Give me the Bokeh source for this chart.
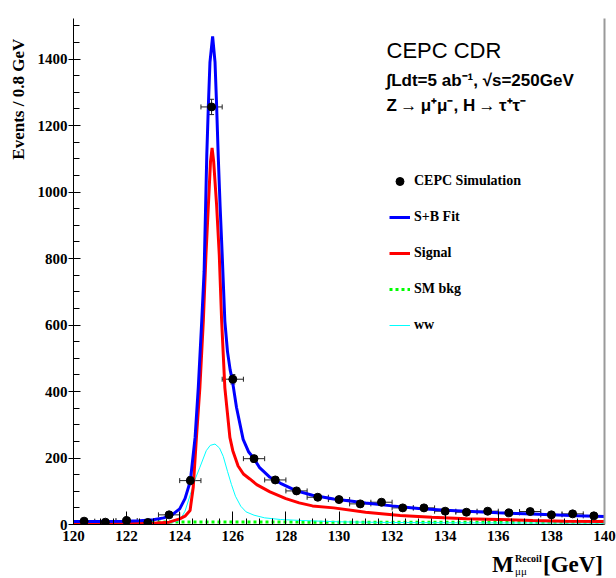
from bokeh.plotting import figure
from bokeh.layouts import column
from bokeh.models import (Range1d, FixedTicker, Whisker, TeeHead, ColumnDataSource,
                          Label, Legend, LegendItem, Title, LinearAxis, Div)
from bokeh.embed import file_html
from bokeh.resources import INLINE

# ---- data ----
bin_centers = [120.4, 121.2, 122.0, 122.8, 123.6, 124.4, 125.2, 126.0, 126.8, 127.6,
               128.4, 129.2, 130.0, 130.8, 131.6, 132.4, 133.2, 134.0, 134.8, 135.6,
               136.4, 137.2, 138.0, 138.8, 139.6]
events = [10, 7, 12, 6, 29, 132, 1256, 437, 198, 134,
          101, 82, 75, 62, 67, 50, 50, 40, 37, 40,
          35, 39, 29, 32, 26]
events_err = [3, 3, 4, 3, 6, 12, 23, 14, 10, 8,
              7, 6, 6, 5, 5, 5, 5, 4, 4, 4,
              4, 4, 4, 4, 4]
bin_half_width = 0.4

fit_x = [120.0, 121.0, 122.0, 122.5, 123.0, 123.4, 123.7, 124.0, 124.2, 124.4,
         124.58, 124.7, 124.83, 124.92, 125.02, 125.08, 125.14, 125.24, 125.33, 125.39,
         125.45, 125.52, 125.6, 125.7, 125.8, 125.9, 125.98, 126.14, 126.39, 126.6,
         126.8, 127.0, 127.4, 127.8, 128.4, 129.0, 129.8, 130.5, 131.0, 132.0,
         133.0, 134.0, 135.0, 136.0, 137.0, 138.0, 139.0, 140.0]
fit_y = [9, 9, 10, 11, 14, 20, 28, 47, 78, 130,
         262, 412, 612, 762, 1111, 1261, 1391, 1468, 1391, 1261,
         1111, 961, 812, 612, 520, 465, 435, 352, 256, 218,
         198, 172, 142, 124, 101, 88, 77, 70, 65, 56,
         48, 43, 39, 35, 32, 29, 26, 24]

sig_x = [120.0, 121.0, 122.0, 123.0, 123.6, 124.0, 124.2, 124.39, 124.51, 124.63,
         124.76, 124.89, 124.99, 125.08, 125.16, 125.22, 125.28, 125.39, 125.49, 125.58,
         125.7, 125.89, 126.0, 126.2, 126.4, 126.64, 126.9, 127.4, 128.0, 128.5,
         129.0, 129.8, 131.0, 132.3, 133.5, 134.8, 136.0, 137.3, 138.5, 140.0]
sig_y = [2, 2, 3, 4, 7, 17, 25, 42, 112, 262,
         412, 612, 812, 961, 1091, 1133, 1091, 961, 812, 612,
         412, 262, 222, 176, 152, 137, 120, 98, 78, 65,
         56, 50, 37, 27, 22, 17, 15, 12, 10, 9]

ww_x = [120.0, 122.0, 123.0, 123.6, 124.0, 124.2, 124.4, 124.6, 124.76, 125.0,
        125.15, 125.33, 125.5, 125.64, 125.8, 125.95, 126.1, 126.3, 126.5, 126.8,
        127.2, 127.8, 128.6, 130.0, 132.0, 135.0, 140.0]
ww_y = [1, 1, 2, 4, 12, 40, 90, 140, 172, 222,
        238, 242, 230, 205, 160, 120, 85, 55, 38, 28,
        20, 15, 12, 8, 6, 5, 4]

sm_x = [120.0, 130.0, 140.0]
sm_y = [8, 7, 7]

x_ticks = [120, 122, 124, 126, 128, 130, 132, 134, 136, 138, 140]
y_ticks = [0, 200, 400, 600, 800, 1000, 1200, 1400]
x_minor = [120 + 0.5 * i for i in range(41)]
y_minor = [50 * i for i in range(31)]

Y_MAX = 1522
SERIF = "Liberation Serif"
SANS = "Liberation Sans"

p = figure(width=616, height=548, output_backend="svg", toolbar_location=None,
           x_range=Range1d(120, 140), y_range=Range1d(0, Y_MAX),
           min_border_left=73, min_border_right=12, min_border_top=18, min_border_bottom=24)
p.grid.visible = False
p.outline_line_color = None
p.background_fill_color = "white"
p.border_fill_color = "white"

# axes styling
xa = p.xaxis[0]
xa.ticker = FixedTicker(ticks=x_ticks, minor_ticks=x_minor)
xa.major_tick_in = 13
xa.major_tick_out = 0
xa.minor_tick_in = 6
xa.minor_tick_out = 0
xa.major_label_text_font = SERIF
xa.major_label_text_font_style = "bold"
xa.major_label_text_font_size = "15px"
xa.major_label_text_color = "black"
xa.major_label_standoff = 6
xa.axis_line_color = "black"

ya = p.yaxis[0]
ya.ticker = FixedTicker(ticks=y_ticks, minor_ticks=y_minor)
ya.major_tick_in = 7
ya.major_tick_out = 5
ya.minor_tick_in = 6
ya.minor_tick_out = 0
ya.major_label_text_font = SERIF
ya.major_label_text_font_style = "bold"
ya.major_label_text_font_size = "15px"
ya.major_label_text_color = "black"
ya.major_label_standoff = 1
ya.axis_line_color = "black"

ra = LinearAxis(ticker=FixedTicker(ticks=[]), major_label_text_font_size="0px",
                axis_line_color="#999999", axis_line_width=2,
                major_tick_in=0, major_tick_out=0, minor_tick_in=0, minor_tick_out=0)
p.add_layout(ra, "right")

ytitle = Title(text="Events / 0.8  GeV", align="right", text_font=SERIF,
               text_font_style="bold", text_font_size="17px", text_color="black",
               standoff=13, offset=16)
p.add_layout(ytitle, "left")

# curves
r_sm = p.line(sm_x, sm_y, line_color="#00ff00", line_width=3, line_dash="3 3")
r_ww = p.line(ww_x, ww_y, line_color="#00ffff", line_width=1)
r_sig = p.line(sig_x, sig_y, line_color="#ff0000", line_width=3)
r_fit = p.line(fit_x, fit_y, line_color="#0000ff", line_width=3)

# data points with error bars
src = ColumnDataSource(dict(
    x=bin_centers, y=events,
    yl=[v - e for v, e in zip(events, events_err)],
    yu=[v + e for v, e in zip(events, events_err)],
    xl=[c - bin_half_width for c in bin_centers],
    xu=[c + bin_half_width for c in bin_centers]))
p.add_layout(Whisker(source=src, base="x", lower="yl", upper="yu", dimension="height",
                     line_color="#222222", line_width=1,
                     lower_head=TeeHead(size=5, line_color="#222222"),
                     upper_head=TeeHead(size=5, line_color="#222222")))
p.add_layout(Whisker(source=src, base="y", lower="xl", upper="xu", dimension="width",
                     line_color="#222222", line_width=1,
                     lower_head=TeeHead(size=5, line_color="#222222"),
                     upper_head=TeeHead(size=5, line_color="#222222")))
r_pts = p.scatter("x", "y", source=src, size=8, marker="circle",
                  fill_color="black", line_color="black")

# legend
legend = Legend(items=[
    LegendItem(label="CEPC Simulation", renderers=[r_pts]),
    LegendItem(label="S+B Fit", renderers=[r_fit]),
    LegendItem(label="Signal", renderers=[r_sig]),
    LegendItem(label="SM bkg", renderers=[r_sm]),
    LegendItem(label="ww", renderers=[r_ww]),
], location=(316, 189), padding=0, margin=0, spacing=16,
    glyph_width=21, glyph_height=20, label_height=20, label_standoff=4,
    border_line_color=None, background_fill_alpha=0,
    label_text_font=SERIF, label_text_font_style="bold", label_text_font_size="14px",
    label_text_color="black")
p.add_layout(legend, "center")

PX_Y = 506.0 / Y_MAX
PX_X = 531.0 / 20.0


def dx(px):
    return 120 + (px - 73) / PX_X


def dy(py):
    return (524 - py) / PX_Y


def lab(text, px, py, size, font, style="bold"):
    p.add_layout(Label(x=dx(px), y=dy(py), text=text, text_font=font,
                       text_font_style=style, text_font_size=size, text_color="black",
                       text_align="left", text_baseline="alphabetic"))


# top-right texts
lab("CEPC CDR", 386, 50, "22px", SANS, style="normal")
lab("\u222bLdt=5 ab\u207b\u00b9,  \u221as=250GeV", 386, 80, "17px", SANS)
lab("Z\u2009\u2192\u2009\u03bc\u207a\u03bc\u207b, H\u2009\u2192\u2009\u03c4\u207a\u03c4\u207b",
    386, 105, "17px", SANS)

# x-axis title  M_{mu mu}^{Recoil} [GeV]  (below the figure, absolutely placed)
span = ("position:absolute;white-space:nowrap;line-height:1;"
        "font-family:'Liberation Serif';color:black;")
xtitle_html = (
    '<div style="position:relative;width:616px;height:30px;">'
    f'<span style="{span}left:492px;top:5px;font-size:23px;font-weight:bold;">M</span>'
    f'<span style="{span}left:515px;top:6px;font-size:10px;font-weight:bold;">Recoil</span>'
    f'<span style="{span}left:515px;top:18px;font-size:11px;">\u03bc\u03bc</span>'
    f'<span style="{span}left:543px;top:5px;font-size:23px;font-weight:bold;">[GeV]</span>'
    '</div>')
xtitle = Div(text=xtitle_html, width=616, height=30, margin=0)

layout = column(p, xtitle, spacing=0)
open("out.html", "w").write(file_html(layout, INLINE))
